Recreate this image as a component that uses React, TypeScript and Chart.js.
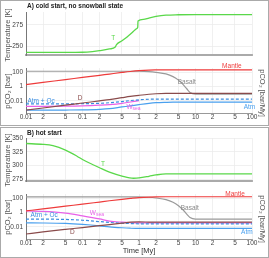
import React, { useEffect, useRef } from "react";
import { Chart, registerables } from "chart.js";

Chart.register(...registerables);

const FONT = "'Liberation Sans', Arial, sans-serif";

// ---- time axis ----
const TIME_MIN = 0.01;
const TIME_MAX = 100;
const X_TICKS = [0.01, 0.02, 0.05, 0.1, 0.2, 0.5, 1, 2, 5, 10, 20, 50, 100];
const X_TICK_LABELS = ["0.01", "2", "5", "0.1", "2", "5", "1", "2", "5", "10", "2", "5", "100"];

// ---- y axes ----
const A_TEMP_TICKS = [250, 275];
const B_TEMP_TICKS = [275, 300, 325, 350];
const PCO2_TICKS = [0.01, 1, 100];

// ---- temperature series ----
const A_T_TIME = [0.01, 0.05, 0.1, 0.15, 0.2, 0.3, 0.38, 0.4, 0.5, 0.6, 0.7, 0.8, 0.9, 0.95, 0.96, 1.2, 1.5, 2, 3, 5, 10, 100];
const A_T = [243, 243, 243.2, 244, 245, 247, 249.3, 252, 256.5, 260.5, 264, 267.5, 270.5, 272.3, 279.5, 281.5, 283, 284.8, 286.3, 286.8, 287, 287];

const B_T_TIME = [0.01, 0.02, 0.03, 0.05, 0.08, 0.1, 0.15, 0.2, 0.3, 0.5, 0.8, 1, 1.5, 2, 3, 5, 100];
const B_T = [340, 338.5, 336, 328, 317, 311, 302, 296, 288, 281, 277, 277.5, 280.5, 283, 285, 285, 285];

// ---- pCO2 series (common time grid) ----
const PCO2_TIME = [0.01, 0.02, 0.05, 0.1, 0.2, 0.3, 0.5, 0.7, 1, 1.5, 2, 3, 4, 5, 6, 7, 8, 10, 20, 50, 100];

const A_MANTLE = [1.9, 3.8, 9.5, 19, 38, 57, 95, 130, 170, 205, 215, 220, 220, 220, 220, 220, 220, 220, 220, 220, 220];
const A_BASALT = [140, 140, 140, 140, 140, 140, 140, 140, 140, 125, 100, 60, 25, 8, 2, 0.5, 0.15, 0.09, 0.09, 0.09, 0.09];
const A_D = [0.0005, 0.001, 0.0025, 0.005, 0.01, 0.015, 0.028, 0.042, 0.06, 0.085, 0.1, 0.11, 0.11, 0.11, 0.11, 0.11, 0.11, 0.11, 0.11, 0.11, 0.11];
const A_ATM_OC = [0.0037, 0.0037, 0.0038, 0.004, 0.0045, 0.0055, 0.008, 0.011, 0.014, 0.017, 0.018, 0.018, 0.018, 0.018, 0.018, 0.018, 0.018, 0.018, 0.018, 0.018, 0.018];
const A_WSEA = [0.0017, 0.0017, 0.0018, 0.002, 0.0025, 0.003, 0.0045, 0.007, 0.011];
const A_ATM = [0.0005, 0.0005, 0.00052, 0.00055, 0.00065, 0.0008, 0.0014, 0.002, 0.003, 0.0045, 0.0055, 0.0062, 0.0065, 0.0065, 0.0065, 0.0065, 0.0065, 0.0065, 0.0065, 0.0065, 0.0065];

const B_MANTLE = [1.7, 3.3, 8, 15, 30, 45, 72, 95, 125, 150, 160, 165, 165, 165, 165, 165, 165, 165, 165, 165, 165];
const B_BASALT = [160, 160, 160, 160, 160, 160, 160, 160, 160, 140, 110, 65, 28, 9, 2.5, 0.6, 0.2, 0.12, 0.12, 0.12, 0.12];
const B_D = [0.001, 0.002, 0.0045, 0.008, 0.015, 0.021, 0.033, 0.045, 0.05, 0.047, 0.045, 0.045, 0.045, 0.045, 0.045, 0.045, 0.045, 0.045, 0.045, 0.045, 0.045];
const B_ATM_OC = [0.12, 0.12, 0.11, 0.085, 0.055, 0.042, 0.032, 0.029, 0.027, 0.027, 0.027, 0.027, 0.027, 0.027, 0.027, 0.027, 0.027, 0.027, 0.027, 0.027, 0.027];
const B_WSEA = [1.7, 1.5, 0.85, 0.35, 0.13, 0.065, 0.045, 0.038, 0.036, 0.036, 0.036, 0.036, 0.036, 0.036, 0.036, 0.036, 0.036, 0.036, 0.036, 0.036, 0.036];
const B_ATM = [0.036, 0.035, 0.03, 0.022, 0.014, 0.01, 0.0075, 0.0065, 0.006, 0.006, 0.006, 0.006, 0.006, 0.006, 0.006, 0.006, 0.006, 0.006, 0.006, 0.006, 0.006];

const C = {
  T: "#5ad84a",
  mantle: "#ee3b3b",
  basalt: "#9a9a9a",
  d: "#8a4b4b",
  atmOc: "#3a8de0",
  atm: "#4aa0ee",
  wsea: "#e860e8",
};

type Label = { text: string; sub?: string; x: number; y: number; color: string };

const A_T_LABELS: Label[] = [{ text: "T", x: 0.35, y: 259.7, color: C.T }];
const B_T_LABELS: Label[] = [{ text: "T", x: 0.23, y: 302.6, color: C.T }];
const A_P_LABELS: Label[] = [
  { text: "Mantle", x: 44, y: 700, color: C.mantle },
  { text: "Basalt", x: 7, y: 3.7, color: "#888" },
  { text: "Atm + Oc", x: 0.0185, y: 0.01, color: C.atmOc },
  { text: "D", x: 0.091, y: 0.027, color: C.d },
  { text: "W", sub: "sea", x: 0.8, y: 0.0014, color: C.wsea },
  { text: "Atm", x: 90, y: 0.0014, color: C.atm },
];
const B_P_LABELS: Label[] = [
  { text: "Mantle", x: 50, y: 400, color: C.mantle },
  { text: "Basalt", x: 7.9, y: 4, color: "#888" },
  { text: "Atm + Oc", x: 0.021, y: 0.46, color: C.atmOc },
  { text: "W", sub: "sea", x: 0.18, y: 0.86, color: C.wsea },
  { text: "D", x: 0.066, y: 0.0018, color: C.d },
  { text: "Atm", x: 81, y: 0.0018, color: C.atm },
];

function labelPlugin(labels: Label[], title?: string) {
  return {
    id: "lineLabels",
    afterDatasetsDraw(chart: any) {
      const { ctx, scales, chartArea } = chart;
      ctx.save();
      ctx.textBaseline = "middle";
      for (const l of labels) {
        const px = scales.x.getPixelForValue(l.x);
        const py = scales.y.getPixelForValue(l.y);
        const main = `6.5px ${FONT}`;
        const subFont = `5px ${FONT}`;
        ctx.font = main;
        const w1 = ctx.measureText(l.text).width;
        let w2 = 0;
        if (l.sub) {
          ctx.font = subFont;
          w2 = ctx.measureText(l.sub).width;
        }
        const start = px - (w1 + w2) / 2;
        ctx.fillStyle = l.color;
        ctx.textAlign = "left";
        ctx.font = main;
        ctx.fillText(l.text, start, py);
        if (l.sub) {
          ctx.font = subFont;
          ctx.fillText(l.sub, start + w1, py + 2);
        }
      }
      if (title) {
        ctx.font = `bold 6.5px ${FONT}`;
        ctx.fillStyle = "#222";
        ctx.textAlign = "left";
        ctx.fillText(title, chartArea.left + 1, 6);
      }
      ctx.restore();
    },
  };
}

function xScale(showLabels: boolean, height: number, title?: string) {
  return {
    type: "logarithmic",
    min: TIME_MIN,
    max: TIME_MAX,
    afterBuildTicks: (s: any) => {
      s.ticks = X_TICKS.map((v) => ({ value: v }));
    },
    afterFit: (s: any) => {
      s.height = height;
      s.paddingLeft = 0;
      s.paddingRight = 0;
    },
    ticks: {
      display: showLabels,
      autoSkip: false,
      maxRotation: 0,
      minRotation: 0,
      padding: 0,
      color: "#444",
      font: { size: 6.5, family: FONT },
      callback: (_v: any, i: number) => X_TICK_LABELS[i],
    },
    grid: { color: "#ececec", lineWidth: 0.8, drawTicks: false },
    border: { color: showLabels ? "#999" : "#aaa", width: showLabels ? 1 : 2 },
    title: {
      display: !!title,
      text: title || "",
      color: "#333",
      font: { size: 7.5, family: FONT },
      padding: { top: 0, bottom: 2.5 },
    },
  };
}

function yLeft(type: string, min: number, max: number, ticks: number[]) {
  return {
    type,
    position: "left",
    min,
    max,
    afterBuildTicks: (s: any) => {
      s.ticks = ticks.map((v) => ({ value: v }));
    },
    afterFit: (s: any) => {
      s.width = 26;
      s.paddingTop = 0;
      s.paddingBottom = 0;
    },
    ticks: {
      padding: 3,
      color: "#444",
      font: { size: 6.5, family: FONT },
      callback: (v: any) => String(v),
    },
    grid: { color: "#ececec", lineWidth: 0.8, drawTicks: false },
    border: { color: "#777", width: 1 },
    title: { display: false },
  };
}

const yRight = {
  type: "logarithmic",
  position: "right",
  min: 0.0002,
  max: 400,
  afterFit: (s: any) => {
    s.width = 17;
    s.paddingTop = 0;
    s.paddingBottom = 0;
  },
  ticks: { display: false },
  grid: { display: false, drawTicks: false },
  border: { display: false },
  title: { display: false },
};

function series(times: number[], vals: number[], color: string, dashed = false, width = 1.2) {
  return {
    data: vals.map((v, i) => ({ x: times[i], y: v })),
    borderColor: color,
    backgroundColor: color,
    borderWidth: width,
    borderDash: dashed ? [3, 2] : [],
    pointRadius: 0,
    cubicInterpolationMode: "monotone",
    fill: false,
  };
}

function tempConfig(times: number[], vals: number[], min: number, max: number, ticks: number[], labels: Label[], title: string, topPad: number) {
  return {
    type: "line",
    data: { datasets: [series(times, vals, C.T, false, 1.3)] },
    options: {
      animation: false,
      responsive: false,
      layout: { padding: { top: topPad, right: 17, left: 0, bottom: 0 } },
      plugins: { legend: { display: false }, tooltip: { enabled: false }, title: { display: false } },
      scales: {
        x: xScale(false, 2),
        y: yLeft("linear", min, max, ticks),
      },
    },
    plugins: [labelPlugin(labels, title)],
  };
}

function pco2Config(
  mantle: number[],
  basalt: number[],
  d: number[],
  atmOc: number[],
  wsea: number[],
  atm: number[],
  labels: Label[],
  xHeight: number,
  xTitle?: string
) {
  return {
    type: "line",
    data: {
      datasets: [
        series(PCO2_TIME, d, C.d),
        series(PCO2_TIME, mantle, C.mantle),
        series(PCO2_TIME, atmOc, C.atmOc, true),
        series(PCO2_TIME, atm, C.atm),
        series(PCO2_TIME, wsea, C.wsea),
        series(PCO2_TIME, basalt, C.basalt),
      ],
    },
    options: {
      animation: false,
      responsive: false,
      layout: { padding: { top: 11, right: 0, left: 0, bottom: 0 } },
      plugins: { legend: { display: false }, tooltip: { enabled: false }, title: { display: false } },
      scales: {
        x: xScale(true, xHeight, xTitle),
        y: yLeft("logarithmic", 0.0002, 400, PCO2_TICKS),
        y2: yRight,
      },
    },
    plugins: [labelPlugin(labels)],
  };
}

const W = 269;

function AxisTitle({ text, cx, cy, rot }: { text: string; cx: number; cy: number; rot: number }) {
  return (
    <div
      style={{
        position: "absolute",
        left: cx,
        top: cy,
        transform: `translate(-50%, -50%) rotate(${rot}deg)`,
        whiteSpace: "nowrap",
        font: `7.5px ${FONT}`,
        lineHeight: "9px",
        color: "#555",
        pointerEvents: "none",
      }}
    >
      {text}
    </div>
  );
}

export default function App() {
  const r1 = useRef<HTMLCanvasElement>(null);
  const r2 = useRef<HTMLCanvasElement>(null);
  const r3 = useRef<HTMLCanvasElement>(null);
  const r4 = useRef<HTMLCanvasElement>(null);

  useEffect(() => {
    document.body.style.margin = "0";
    const charts = [
      new Chart(r1.current as any, tempConfig(A_T_TIME, A_T, 240, 290, A_TEMP_TICKS, A_T_LABELS, "A) cold start, no snowball state", 12) as any),
      new Chart(r2.current as any, pco2Config(A_MANTLE, A_BASALT, A_D, A_ATM_OC, A_WSEA, A_ATM, A_P_LABELS, 12) as any),
      new Chart(r3.current as any, tempConfig(B_T_TIME, B_T, 272, 350, B_TEMP_TICKS, B_T_LABELS, "B) hot start", 11) as any),
      new Chart(r4.current as any, pco2Config(B_MANTLE, B_BASALT, B_D, B_ATM_OC, B_WSEA, B_ATM, B_P_LABELS, 19, "Time [My]") as any),
    ];
    return () => charts.forEach((c) => c.destroy());
  }, []);

  const cv = (top: number, h: number): React.CSSProperties => ({
    position: "absolute",
    left: 0,
    top,
    width: W,
    height: h,
  });

  return (
    <div style={{ position: "absolute", left: 0, top: 0, width: W, height: 258, background: "#fff", overflow: "hidden" }}>
      <canvas ref={r1} width={W} height={57} style={cv(0, 57)} />
      <canvas ref={r2} width={W} height={68} style={cv(57, 68)} />
      <canvas ref={r3} width={W} height={56} style={cv(127, 56)} />
      <canvas ref={r4} width={W} height={75} style={cv(183, 75)} />
      <AxisTitle text="Temperature [K]" cx={7} cy={35} rot={-90} />
      <AxisTitle text="pCO₂ [bar]" cx={7} cy={91} rot={-90} />
      <AxisTitle text="pCO₂ [bar/My]" cx={262} cy={93} rot={90} />
      <AxisTitle text="Temperature [K]" cx={7} cy={160} rot={-90} />
      <AxisTitle text="pCO₂ [bar]" cx={7} cy={217} rot={-90} />
      <AxisTitle text="pCO₂ [bar/My]" cx={262} cy={219} rot={90} />
      <div style={{ position: "absolute", left: 0, top: 0, width: W, height: 126, border: "1px solid #aaa", boxSizing: "border-box", pointerEvents: "none" }} />
      <div style={{ position: "absolute", left: 0, top: 127, width: W, height: 131, border: "1px solid #aaa", boxSizing: "border-box", pointerEvents: "none" }} />
    </div>
  );
}
